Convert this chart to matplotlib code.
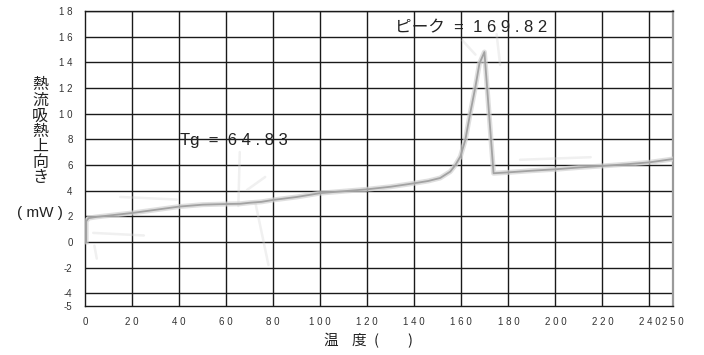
import matplotlib.pyplot as plt

# DSC heat-flow trace (temperature in deg C, heat flow in mW)
temp = [0.5, 0.5, 1.5, 5, 10, 20, 30, 40, 50, 60, 66, 70, 75, 80, 90, 100,
        110, 120, 130, 140, 146, 151, 155.3, 157.5, 159.6, 161.7, 163.8, 166,
        167.7, 169.82, 173.7, 180, 190, 200, 210, 220, 230, 240, 250]
heat = [0.0, 1.6, 1.85, 1.95, 2.05, 2.25, 2.5, 2.75, 2.9, 2.95, 2.97, 3.05,
        3.12, 3.27, 3.5, 3.8, 3.95, 4.1, 4.3, 4.57, 4.75, 4.98, 5.48, 6.0,
        6.65, 7.95, 10.05, 12.1, 13.9, 14.8, 5.35, 5.42, 5.55, 5.66, 5.8,
        5.92, 6.05, 6.2, 6.46]

# faint construction lines left on the trace (tangents around Tg and the peak)
ghost_lines = [
    ([65.8, 65.2], [7.0, 2.8]),
    ([68.9, 76.6], [4.05, 5.06]),
    ([72.5, 78.0], [3.0, -1.8]),
    ([4.0, 5.0], [-0.3, -1.3]),
    ([3.5, 25.0], [0.7, 0.5]),
    ([15.0, 39.0], [3.5, 3.3]),
    ([160.5, 166.0], [15.7, 14.6]),
    ([175.0, 176.5], [16.2, 13.8]),
    ([185.0, 215.0], [6.4, 6.6]),
]

tg = 64.83
peak = 169.82

x_ticks = [0, 20, 40, 60, 80, 100, 120, 140, 160, 180, 200, 220, 240, 250]
y_ticks = [-5, -4, -2, 0, 2, 4, 6, 8, 10, 12, 14, 16, 18]


def spaced(text):
    # wide letter spacing like the instrument printout
    text = str(text)
    if text.startswith("-"):
        return text
    return " ".join(text)


plt.rcParams["font.family"] = ["Liberation Sans", "Noto Sans CJK JP", "DejaVu Sans"]

fig = plt.figure(figsize=(7.04, 3.55), dpi=100)
ax = fig.add_axes([85 / 704, 1 - 306 / 355, 588 / 704, 295 / 355])

ax.set_xlim(0, 250)
ax.set_ylim(-5, 18)

# grid
for x in x_ticks[1:-1]:
    ax.axvline(x, color="#1a1a1a", lw=1.0, zorder=1)
for y in y_ticks[1:]:
    ax.axhline(y, color="#1a1a1a", lw=1.0, zorder=1)

for sp in ["left", "bottom", "top"]:
    ax.spines[sp].set_color("#1a1a1a")
    ax.spines[sp].set_linewidth(1.0)
ax.spines["right"].set_color("#9a9a9a")
ax.spines["right"].set_linewidth(1.6)

# trace: soft halo plus grey core
for gx, gy in ghost_lines:
    ax.plot(gx, gy, color="#d4d4d4", lw=1.8, alpha=0.35, zorder=2,
            solid_capstyle="round")
ax.plot(temp, heat, color="#d2d2d2", lw=3.6, alpha=0.7, zorder=3,
        solid_joinstyle="round")
ax.plot(temp, heat, color="#a2a2a2", lw=1.3, zorder=4, solid_joinstyle="round")

ax.set_xticks(x_ticks)
ax.set_xticklabels([spaced(v) for v in x_ticks])
ax.set_yticks(y_ticks)
ax.set_yticklabels([spaced(v) for v in y_ticks])
ax.tick_params(length=0, labelsize=7, labelcolor="#333333")
ax.tick_params(axis="x", pad=8)
ax.tick_params(axis="y", pad=9)

# annotations
ax.text(40.4, 7.56, "Tg  =  " + spaced(f"{tg:.2f}"), fontsize=12,
        color="#222222", va="baseline", ha="left", zorder=5)
ax.text(131.9, 16.34, "ピーク  =  " + spaced(f"{peak:.2f}"), fontsize=12,
        color="#222222", va="baseline", ha="left", zorder=5)

# vertical y-axis label, one character per line
for i, ch in enumerate("熱流吸熱上向き"):
    fig.text(40 / 704, 1 - (85 + i * 15.4) / 355, ch, fontsize=11.5,
             family=["Noto Sans CJK JP"], color="#222222",
             ha="center", va="center")
fig.text(39.5 / 704, 1 - 213 / 355, "( mW )", fontsize=11,
         color="#222222", ha="center", va="center")

# x-axis label
for xp, ch in [(331, "温"), (359, "度"), (376, "("), (410, ")")]:
    fig.text(xp / 704, 1 - 341 / 355, ch, fontsize=10.5,
             family=["Noto Sans CJK JP"], color="#222222",
             ha="center", va="center")

fig.savefig("out.png", dpi=100, facecolor="white")
